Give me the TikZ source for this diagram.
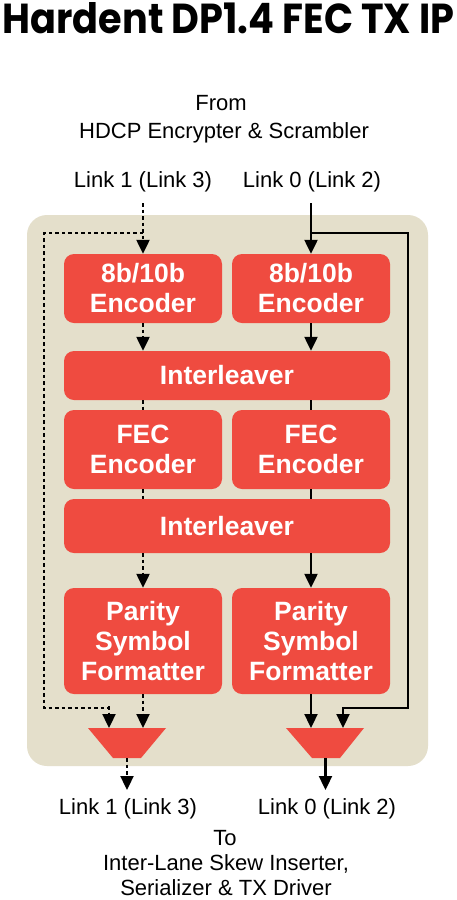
\documentclass[tikz,border=0pt]{standalone}
\usepackage{graphicx}
\usepackage{fontspec}
\setmainfont{Liberation Sans}
\newfontfamily\titlefont{Poppins}
\usetikzlibrary{arrows.meta}
\definecolor{boxred}{HTML}{EF4B40}
\definecolor{panelbg}{HTML}{E4DFCB}
\tikzset{
  blk/.style={fill=boxred, rounded corners=10pt, text=white, font=\fontsize{26.5}{30}\selectfont\bfseries, align=center, inner sep=0pt, minimum width=158pt},
  sol/.style={line width=2.3pt, -{Triangle[width=13pt,length=14pt]}},
  solline/.style={line width=2.3pt},
  dotline/.style={line width=2.3pt, dash pattern=on 3.5pt off 3pt},
  dotarrow/.style={sol, dash pattern=on 3.5pt off 3pt},
  lbl/.style={font=\fontsize{22}{26}\selectfont, anchor=base, inner sep=0pt},
  muxfill/.style={fill=boxred}
}
\begin{document}
\begin{tikzpicture}[x=1pt,y=-1pt]
\useasboundingbox (0,0) rectangle (457,900);
\fill[white] (0,0) rectangle (457,900);
% title
\node[anchor=base, inner sep=0pt] (title) at (228.5,33) {\resizebox{452pt}{31pt}{\titlefont\bfseries Hardent DP1.4 FEC TX IP}};
% top labels
\node[lbl] (from) at (221,110) {From};
\node[lbl] (src) at (224,138) {HDCP Encrypter \& Scrambler};
\node[lbl] (in1lbl) at (143,187) {Link 1 (Link 3)};
\node[lbl] (in0lbl) at (312,187) {Link 0 (Link 2)};
% panel
\fill[panelbg, rounded corners=20pt] (27,215) rectangle (428,766);
% blocks
\node[blk, minimum height=69pt] (e1) at (143,288.5) {8b/10b\\Encoder};
\node[blk, minimum height=69pt] (e0) at (311,288.5) {8b/10b\\Encoder};
\node[blk, minimum height=49pt, minimum width=326pt] (il1) at (227,375.5) {Interleaver};
\node[blk, minimum height=79pt] (f1) at (143,449.5) {FEC\\Encoder};
\node[blk, minimum height=79pt] (f0) at (311,449.5) {FEC\\Encoder};
\node[blk, minimum height=54pt, minimum width=326pt] (il2) at (227,526) {Interleaver};
\node[blk, minimum height=106pt] (p1) at (143,641) {Parity\\Symbol\\Formatter};
\node[blk, minimum height=106pt] (p0) at (311,641) {Parity\\Symbol\\Formatter};
% muxes
\fill[muxfill] (88,728) -- (166,728) -- (141,758) -- (113,758) -- cycle;
\fill[muxfill] (286,728) -- (364,728) -- (340,758) -- (312,758) -- cycle;
\coordinate (m1a) at (109,728);
\coordinate (m1b) at (143,728);
\coordinate (m1out) at (127,758);
\coordinate (m0a) at (311,728);
\coordinate (m0b) at (343,728);
\coordinate (m0out) at (325.5,758);
\coordinate (o1) at (127,790);
\coordinate (o0) at (325.5,790);
\coordinate (in1) at (143,203);
\coordinate (in0) at (311,203);
\coordinate (j1) at (143,233);
\coordinate (j0) at (311,233);
% link 1 (dotted)
\draw[dotarrow] (in1) -- (e1.north);
\draw[dotline] (j1) -- (44,233) -- (44,708) -- (109,708) -- (109,714);
\draw[dotarrow] (109,706) -- (m1a);
\draw[dotarrow] (e1.south) -- (e1.south |- il1.north);
\draw[dotline] (e1.south |- il1.south) -- (f1.north);
\draw[dotline] (f1.south) -- (f1.south |- il2.north);
\draw[dotarrow] (e1.south |- il2.south) -- (p1.north);
\draw[dotarrow] (p1.south) -- (m1b);
\draw[dotarrow] (m1out) -- (o1);
% link 0 (solid)
\draw[sol] (in0) -- (e0.north);
\draw[sol] (j0) -- (408,233) -- (408,708) -- (343,708) -- (m0b);
\draw[sol] (e0.south) -- (e0.south |- il1.north);
\draw[solline] (e0.south |- il1.south) -- (f0.north);
\draw[solline] (f0.south) -- (f0.south |- il2.north);
\draw[sol] (e0.south |- il2.south) -- (p0.north);
\draw[sol] (p0.south) -- (m0a);
\draw[sol] (m0out) -- (o0);
% bottom labels
\node[lbl] (out1lbl) at (128,814) {Link 1 (Link 3)};
\node[lbl] (out0lbl) at (327,814) {Link 0 (Link 2)};
\node[lbl] (to) at (225,845) {To};
\node[lbl] (dst1) at (226,870) {Inter-Lane Skew Inserter,};
\node[lbl] (dst2) at (226,895) {Serializer \& TX Driver};
\end{tikzpicture}
\end{document}
